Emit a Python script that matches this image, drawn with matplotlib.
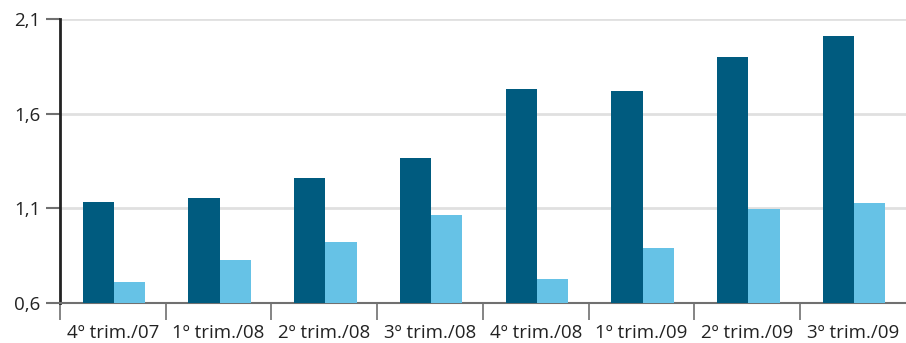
import matplotlib.pyplot as plt
import numpy as np

plt.rcParams['font.family'] = ['Open Sans', 'DejaVu Sans']

categories = ['4º trim./07', '1º trim./08', '2º trim./08', '3º trim./08',
              '4º trim./08', '1º trim./09', '2º trim./09', '3º trim./09']
serie_a = [1.135, 1.156, 1.261, 1.367, 1.730, 1.719, 1.898, 2.009]
serie_b = [0.709, 0.825, 0.919, 1.062, 0.725, 0.888, 1.098, 1.125]
yticks = [0.6, 1.1, 1.6, 2.1]
ytick_labels = ['0,6', '1,1', '1,6', '2,1']

fig = plt.figure(figsize=(9.06, 3.43), dpi=100)
ax = fig.add_axes([0.0662, 0.1175, 0.9338, 0.827])

x = np.arange(len(categories))
w = 0.295
ax.bar(x - w / 2 + 0.01, np.array(serie_a) - 0.6, w, bottom=0.6, color='#005b7f', zorder=3)
ax.bar(x + w / 2 + 0.01, np.array(serie_b) - 0.6, w, bottom=0.6, color='#66c2e6', zorder=3)

ax.set_xlim(-0.5, len(categories) - 0.5)
ax.set_ylim(0.6, 2.1)
ax.set_yticks(yticks)
ax.set_yticklabels(ytick_labels, fontsize=13.5, color='#222222')
ax.yaxis.grid(True, color='#e0e0e0', linewidth=2, zorder=0)
ax.tick_params(axis='y', length=10, width=1.5, color='#707070', pad=4)

ax.set_xticks(x)
ax.set_xticklabels(categories, fontsize=13.5, color='#222222')
ax.set_xticks(np.arange(len(categories)) - 0.5, minor=True)
ax.tick_params(axis='x', which='major', length=0, pad=15)
ax.tick_params(axis='x', which='minor', length=12, width=1.2, color='#707070')

for s in ['top', 'right']:
    ax.spines[s].set_visible(False)
ax.spines['left'].set_color('#222222')
ax.spines['left'].set_linewidth(2)
ax.spines['bottom'].set_color('#707070')
ax.spines['bottom'].set_linewidth(1.5)
ax.set_axisbelow(True)

fig.savefig('out.png', dpi=100)
